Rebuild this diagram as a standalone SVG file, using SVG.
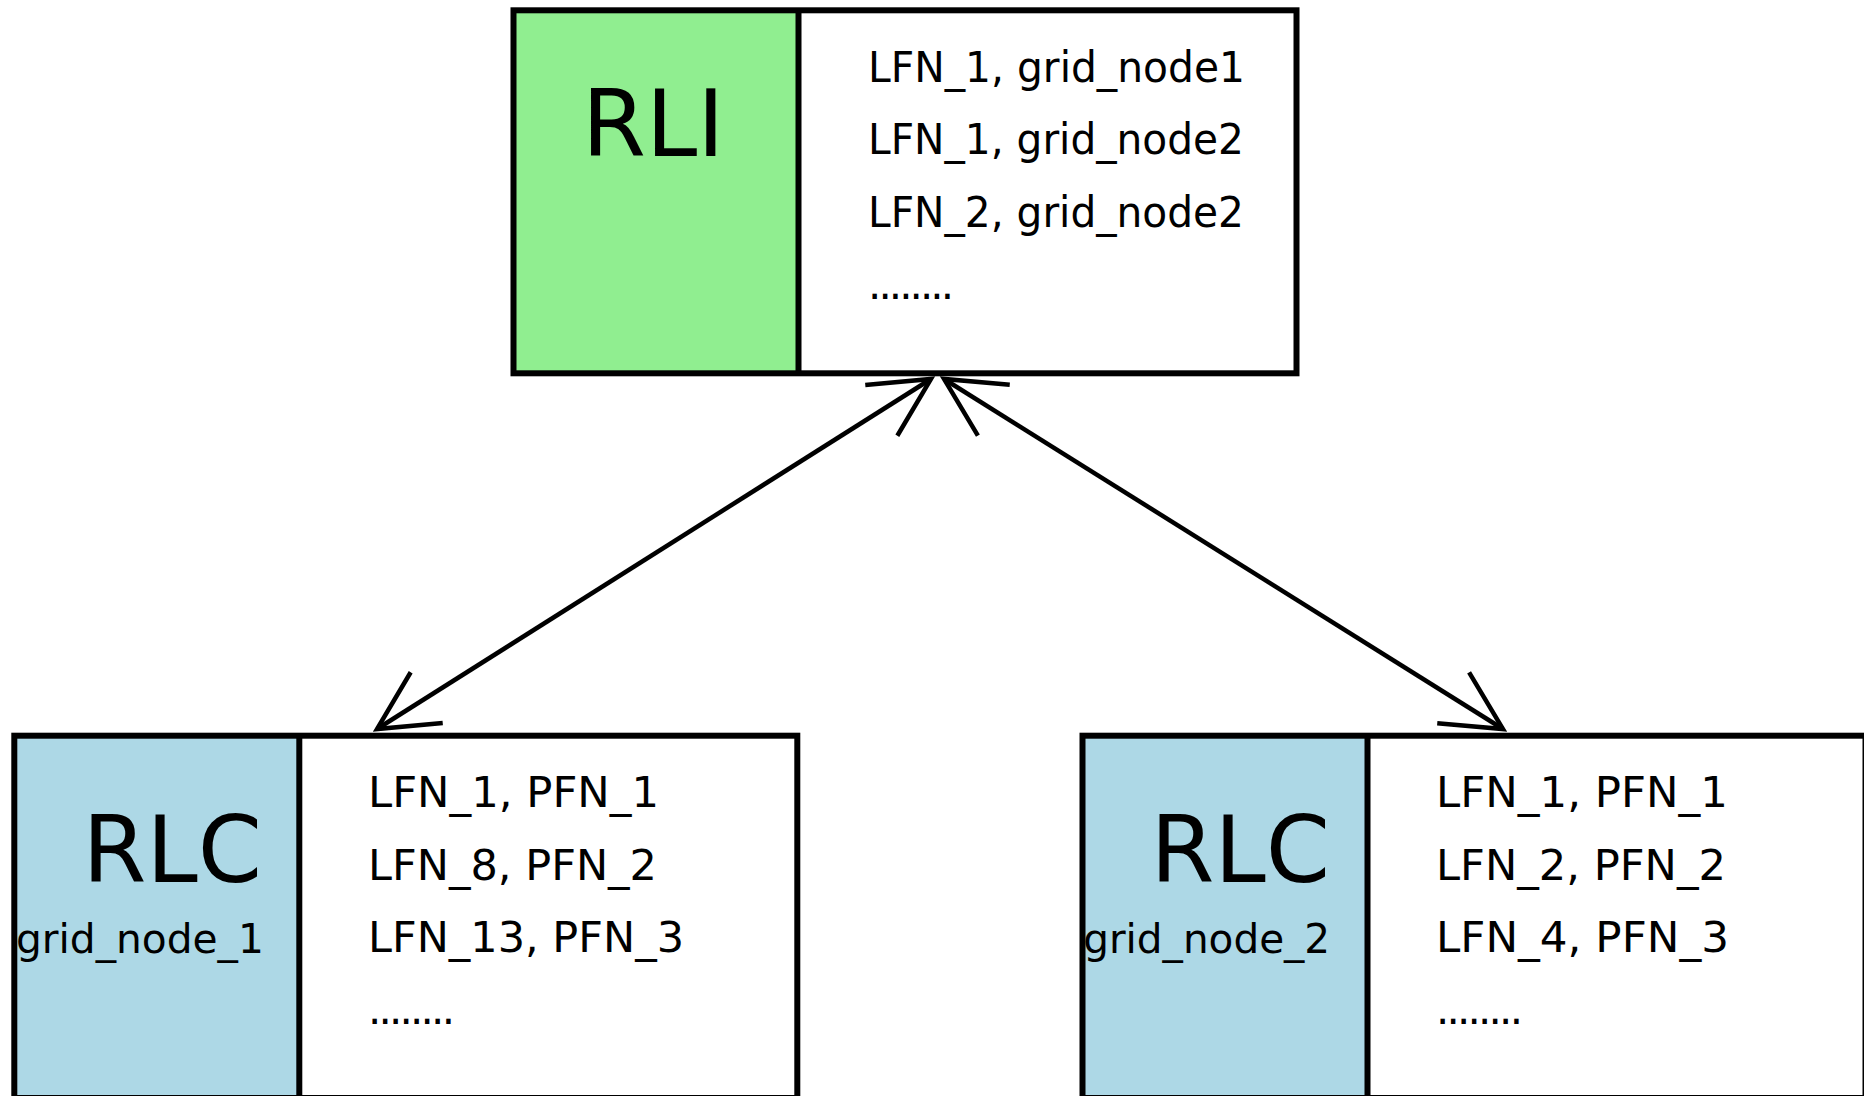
<svg xmlns="http://www.w3.org/2000/svg" width="1864" height="1096" viewBox="0 0 1864 1096">
  <style>
    .outline { fill: none; stroke: #000; stroke-width: 6; }
    .sep { stroke: #000; stroke-width: 6; }
    .index { fill: #90ee90; }
    .catalog { fill: #add8e6; }
    .table { fill: #ffffff; }
    text { font-family: "DejaVu Sans", "Liberation Sans", sans-serif; fill: #000; }
    .title { font-size: 92px; }
    .entry { font-size: 42px; }
    .host { font-size: 40px; }
    .link { fill: none; stroke: #000; stroke-width: 4.5; marker-start: url(#open); marker-end: url(#open); }
  </style>
  <defs>
    <marker id="open" markerUnits="userSpaceOnUse" orient="auto-start-reverse" refX="0" refY="0" markerWidth="80" markerHeight="80" overflow="visible">
      <path d="M-58.8,-30 L0,0 L-58.8,30" fill="none" stroke="#000" stroke-width="4.5" stroke-linejoin="miter"/>
    </marker>
  </defs>

  <rect x="0" y="0" width="1864" height="1096" fill="#ffffff"/>

  <!-- connectors between the index and the two catalogs -->
  <g id="connectors">
    <line class="link" x1="931" y1="379" x2="377" y2="729"/>
    <line class="link" x1="944" y1="379" x2="1503" y2="729"/>
  </g>

  <!-- replica location index -->
  <g id="rli">
    <rect class="index" x="513.5" y="10.3" width="285" height="363"/>
    <rect class="table" x="798.5" y="10.3" width="498" height="363"/>
    <text class="title" x="582" y="156">RLI</text>
    <text class="entry" x="868" y="81.5" textLength="377" lengthAdjust="spacingAndGlyphs">LFN_1, grid_node1</text>
    <text class="entry" x="868" y="154" textLength="376" lengthAdjust="spacingAndGlyphs">LFN_1, grid_node2</text>
    <text class="entry" x="868" y="226.5" textLength="376" lengthAdjust="spacingAndGlyphs">LFN_2, grid_node2</text>
    <text class="entry" x="868" y="299" textLength="86" lengthAdjust="spacing">........</text>
    <rect class="outline" x="513.5" y="10.3" width="783" height="363"/>
    <line class="sep" x1="798.5" y1="10.3" x2="798.5" y2="373.3"/>
  </g>

  <!-- local replica catalog on grid_node_1 -->
  <g id="rlc1">
    <rect class="catalog" x="14.3" y="735.7" width="285" height="362.3"/>
    <rect class="table" x="299.3" y="735.7" width="498" height="362.3"/>
    <text class="title" x="82.5" y="881.5">RLC</text>
    <text class="host" x="15.9" y="952.5" textLength="248" lengthAdjust="spacingAndGlyphs">grid_node_1</text>
    <text class="entry" x="368" y="806.5" textLength="291" lengthAdjust="spacingAndGlyphs">LFN_1, PFN_1</text>
    <text class="entry" x="368" y="879.5" textLength="289" lengthAdjust="spacingAndGlyphs">LFN_8, PFN_2</text>
    <text class="entry" x="368" y="951.5" textLength="316" lengthAdjust="spacingAndGlyphs">LFN_13, PFN_3</text>
    <text class="entry" x="368" y="1024" textLength="87" lengthAdjust="spacing">........</text>
    <rect class="outline" x="14.3" y="735.7" width="783" height="362.3"/>
    <line class="sep" x1="299.3" y1="735.7" x2="299.3" y2="1098"/>
  </g>

  <!-- local replica catalog on grid_node_2 -->
  <g id="rlc2">
    <rect class="catalog" x="1082.5" y="735.7" width="285" height="362.3"/>
    <rect class="table" x="1367.5" y="735.7" width="498" height="362.3"/>
    <text class="title" x="1150.5" y="881.5">RLC</text>
    <text class="host" x="1083.2" y="952.5" textLength="247" lengthAdjust="spacingAndGlyphs">grid_node_2</text>
    <text class="entry" x="1436" y="806.5" textLength="292" lengthAdjust="spacingAndGlyphs">LFN_1, PFN_1</text>
    <text class="entry" x="1436" y="879.5" textLength="290" lengthAdjust="spacingAndGlyphs">LFN_2, PFN_2</text>
    <text class="entry" x="1436" y="951.5" textLength="293" lengthAdjust="spacingAndGlyphs">LFN_4, PFN_3</text>
    <text class="entry" x="1436" y="1024" textLength="87" lengthAdjust="spacing">........</text>
    <rect class="outline" x="1082.5" y="735.7" width="783" height="362.3"/>
    <line class="sep" x1="1367.5" y1="735.7" x2="1367.5" y2="1098"/>
  </g>
</svg>
